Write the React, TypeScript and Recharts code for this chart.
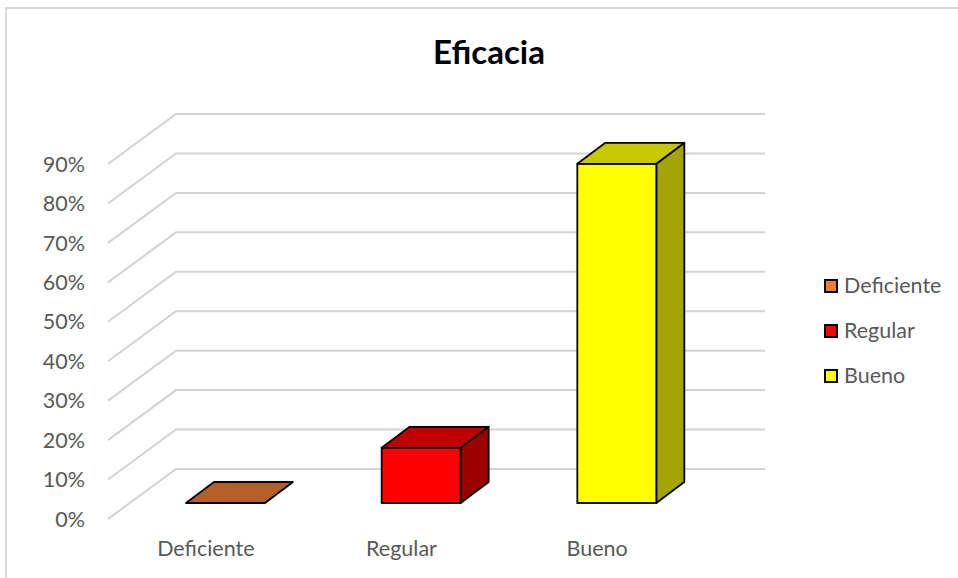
import { BarChart, Bar, XAxis, YAxis, CartesianGrid } from 'recharts';

// chart values
const categories = ['Deficiente', 'Regular', 'Bueno'];
const values = [0, 0.14, 0.86];
const yTicks = [0, 0.1, 0.2, 0.3, 0.4, 0.5, 0.6, 0.7, 0.8, 0.9];

// face colours per category
const frontColors = ['#ED7D31', '#FF0000', '#FFFF00'];
const topColors = ['#B45F27', '#C00000', '#C8C800'];
const sideColors = ['#8E4A1D', '#9C0000', '#A4A400'];

const data = categories.map((name, i) => ({ name, value: values[i] }));

const FONT = 'Lato, "Open Sans", sans-serif';
const TEXT = '#595959';

// fake 3d geometry
const FLOOR_DX = 68;
const FLOOR_DY = -50;
const BAR_SHIFT_X = 20;
const BAR_SHIFT_Y = -16;
const BAR_DX = 28;
const BAR_DY = -21;

const gridLine = (p: any) => {
  const { x1, y1, x2, index } = p;
  const bx = x1 + FLOOR_DX;
  const by = y1 + FLOOR_DY;
  return (
    <polyline
      key={`grid-${index}`}
      points={`${x1},${y1} ${bx},${by} ${x2 + FLOOR_DX + 2},${by}`}
      fill="none"
      stroke="#D3D3D3"
      strokeWidth={2}
    />
  );
};

const Box3D = (props: any) => {
  const { x, y, width, height, index } = props;
  const fx = x + BAR_SHIFT_X;
  const fy = y + BAR_SHIFT_Y;
  const w = width;
  const h = Math.max(height, 0);
  const top = `${fx},${fy} ${fx + w},${fy} ${fx + w + BAR_DX},${fy + BAR_DY} ${fx + BAR_DX},${fy + BAR_DY}`;
  const side = `${fx + w},${fy} ${fx + w + BAR_DX},${fy + BAR_DY} ${fx + w + BAR_DX},${fy + h + BAR_DY} ${fx + w},${fy + h}`;
  return (
    <g>
      {h > 0 && (
        <>
          <polygon points={side} fill={sideColors[index]} stroke="#000" strokeWidth={1.8} strokeLinejoin="round" />
          <rect x={fx} y={fy} width={w} height={h} fill={frontColors[index]} stroke="#000" strokeWidth={1.8} />
        </>
      )}
      <polygon points={top} fill={topColors[index]} stroke="#000" strokeWidth={1.8} strokeLinejoin="round" />
    </g>
  );
};

export default function App() {
  return (
    <div style={{ position: 'relative', width: 958, height: 578, background: '#fff', overflow: 'hidden' }}>
      <style>{`body{margin:0}`}</style>
      <div
        style={{
          position: 'absolute',
          left: 5,
          top: 7,
          width: 970,
          height: 590,
          border: '2px solid #D9D9D9',
          boxSizing: 'border-box',
        }}
      />
      <BarChart
        width={958}
        height={578}
        data={data}
        margin={{ top: 164, right: 263, bottom: 19, left: 0 }}
        style={{ position: 'absolute', left: 0, top: 0 }}
      >
        <CartesianGrid vertical={false} horizontal={gridLine} />
        <XAxis
          dataKey="name"
          height={40}
          axisLine={false}
          tickLine={false}
          tickMargin={16}
          tick={{ fill: TEXT, fontSize: 21.5, fontFamily: FONT }}
        />
        <YAxis
          width={108}
          domain={[0, 0.9]}
          ticks={yTicks}
          interval={0}
          axisLine={false}
          tickLine={false}
          tickMargin={17}
          tickFormatter={(v: number) => `${Math.round(v * 100)}%`}
          tick={{ fill: TEXT, fontSize: 21.5, fontFamily: FONT }}
        />
        <Bar dataKey="value" barSize={79} shape={Box3D} isAnimationActive={false} />
      </BarChart>
      <svg width={958} height={578} style={{ position: 'absolute', left: 0, top: 0, pointerEvents: 'none' }}>
        <text x={489} y={64} textAnchor="middle" fontFamily={FONT} fontWeight={700} fontSize={33} fill="#000">
          Eficacia
        </text>
        {categories.map((c, i) => (
          <g key={c}>
            <rect x={825} y={280 + i * 45} width={12} height={12} fill={frontColors[i]} stroke="#000" strokeWidth={2} />
            <text x={844} y={293 + i * 45} fontFamily={FONT} fontSize={21.5} fill={TEXT}>
              {c}
            </text>
          </g>
        ))}
      </svg>
    </div>
  );
}
